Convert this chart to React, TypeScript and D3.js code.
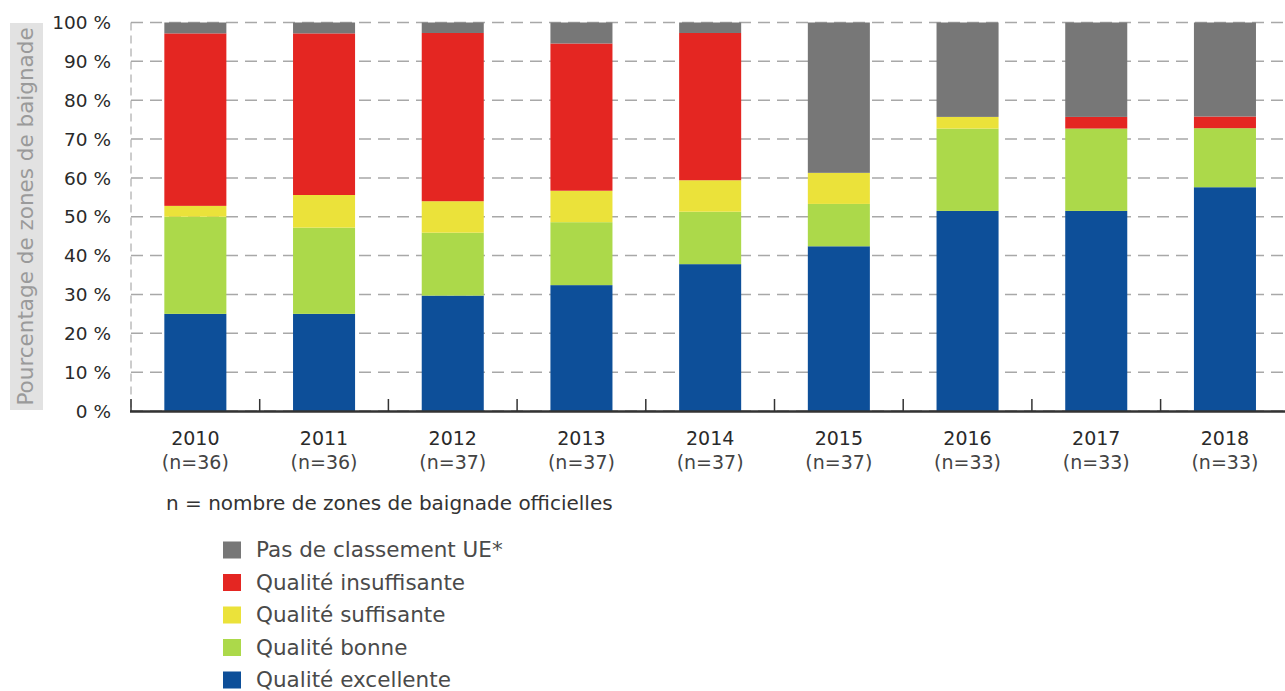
import React from "react";
import * as d3 from "d3";

const years = ["2010", "2011", "2012", "2013", "2014", "2015", "2016", "2017", "2018"];
const counts = ["(n=36)", "(n=36)", "(n=37)", "(n=37)", "(n=37)", "(n=37)", "(n=33)", "(n=33)", "(n=33)"];

const excellente = [25.0, 25.0, 29.7, 32.4, 37.8, 42.4, 51.5, 51.5, 57.6];
const bonne = [25.0, 22.2, 16.2, 16.2, 13.5, 10.9, 21.2, 21.2, 15.2];
const suffisante = [2.8, 8.4, 8.1, 8.1, 8.1, 8.0, 3.0, 0, 0];
const insuffisante = [44.4, 41.6, 43.3, 37.9, 37.9, 0, 0, 3.0, 3.0];
const pasClassement = [2.8, 2.8, 2.7, 5.4, 2.7, 38.7, 24.3, 24.3, 24.2];

const yTicks = [0, 10, 20, 30, 40, 50, 60, 70, 80, 90, 100];

const seriesNames = [
  "Qualité excellente",
  "Qualité bonne",
  "Qualité suffisante",
  "Qualité insuffisante",
  "Pas de classement UE*",
];
const seriesColors = ["#0d4f99", "#acd94a", "#ebe23a", "#e42622", "#777777"];
const legendOrder = [4, 3, 2, 1, 0];

const FONT = "'DejaVu Sans', Verdana, sans-serif";

export default function App() {
  const W = 1285;
  const H = 691;
  const left = 131;
  const right = 1289.3;
  const y0 = 411;
  const y100 = 22.5;

  const x = d3.scaleBand<string>().domain(years).range([left, right]).paddingInner(0.518).paddingOuter(0.259);
  const y = d3.scaleLinear().domain([0, 100]).range([y0, y100]);

  const table = years.map((yr, i) => ({
    year: yr,
    s0: excellente[i],
    s1: bonne[i],
    s2: suffisante[i],
    s3: insuffisante[i],
    s4: pasClassement[i],
  }));
  const stack = d3.stack<any>().keys(["s0", "s1", "s2", "s3", "s4"]);
  const layers = stack(table);

  const step = x.step();
  const boundaries = d3.range(years.length + 1).map((k) => left + k * step);

  return (
    <div style={{ position: "absolute", left: 0, top: 0 }}>
      <svg width={W} height={H} style={{ display: "block" }} fontFamily={FONT}>
        <rect x={0} y={0} width={W} height={H} fill="#ffffff" />
        {/* grid */}
        {yTicks.map((t) => (
          <line
            key={"g" + t}
            x1={left}
            x2={W}
            y1={y(t)}
            y2={y(t)}
            stroke="#a8a8a8"
            strokeWidth={1.5}
            strokeDasharray="12,7"
          />
        ))}
        <line x1={left} x2={left} y1={y100} y2={y0} stroke="#9a9a9a" strokeWidth={1} strokeDasharray="8,5" />

        {/* bars */}
        {layers.map((layer, li) => (
          <g key={"l" + li} fill={seriesColors[li]}>
            {layer.map((d, i) =>
              d[1] - d[0] > 0 ? (
                <rect
                  key={i}
                  x={x(years[i])}
                  width={x.bandwidth()}
                  y={y(d[1])}
                  height={y(d[0]) - y(d[1])}
                />
              ) : null
            )}
          </g>
        ))}

        {/* x axis */}
        <line x1={left - 1} x2={W} y1={y0 + 0.5} y2={y0 + 0.5} stroke="#333333" strokeWidth={2.5} />
        {boundaries.map((b, k) => (
          <line key={"t" + k} x1={b} x2={b} y1={y0} y2={y0 - 12} stroke="#333333" strokeWidth={1.5} />
        ))}

        {/* y tick labels */}
        {yTicks.map((t) => (
          <text
            key={"yl" + t}
            x={111}
            y={y(t)}
            dy="0.36em"
            textAnchor="end"
            fontSize={18.5}
            fill="#2a2a2a"
          >
            {t + " %"}
          </text>
        ))}

        {/* y axis title */}
        <rect x={10} y={23} width={33} height={387} fill="#e2e2e2" />
        <text
          transform={`translate(33,${(23 + 410) / 2}) rotate(-90)`}
          textAnchor="middle"
          fontSize={21.5}
          fill="#9a9a9a"
        >
          Pourcentage de zones de baignade
        </text>

        {/* x labels */}
        {years.map((yr, i) => (
          <g key={"xl" + yr}>
            <text
              x={(x(yr) as number) + x.bandwidth() / 2}
              y={445}
              textAnchor="middle"
              fontSize={19}
              fill="#2a2a2a"
            >
              {yr}
            </text>
            <text
              x={(x(yr) as number) + x.bandwidth() / 2}
              y={469}
              textAnchor="middle"
              fontSize={19}
              fill="#444444"
            >
              {counts[i]}
            </text>
          </g>
        ))}

        <text x={166} y={510} fontSize={20} fill="#333333">
          n = nombre de zones de baignade officielles
        </text>

        {/* legend */}
        {legendOrder.map((si, k) => (
          <g key={"lg" + si} transform={`translate(223,${541.5 + k * 32.5})`}>
            <rect x={0} y={0} width={18} height={17} fill={seriesColors[si]} />
            <text x={33} y={15.5} fontSize={21.5} fill="#4a4a4a">
              {seriesNames[si]}
            </text>
          </g>
        ))}
      </svg>
    </div>
  );
}
